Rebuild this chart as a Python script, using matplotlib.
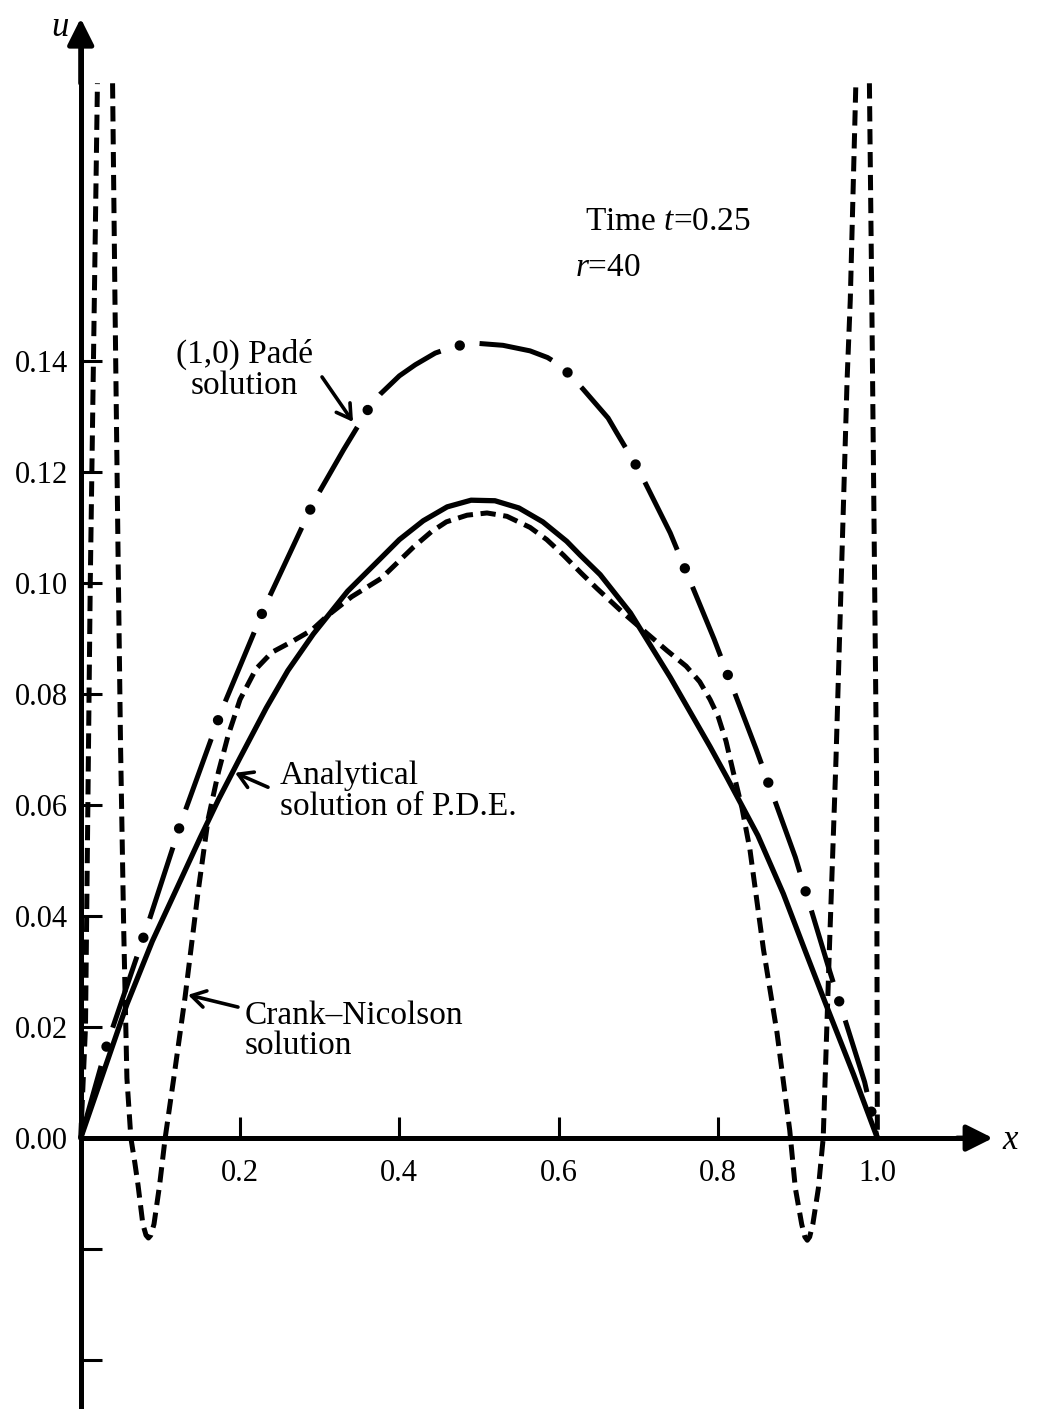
import numpy as np
import matplotlib.pyplot as plt

plt.rcParams['font.family'] = ['Liberation Serif', 'DejaVu Serif']
plt.rcParams['mathtext.fontset'] = 'custom'
plt.rcParams['mathtext.rm'] = 'Liberation Serif'
plt.rcParams['mathtext.it'] = 'Liberation Serif:italic'
plt.rcParams['lines.scale_dashes'] = False

# analytical solution of the PDE
x_exact = [0.0, 0.058, 0.09, 0.122, 0.15, 0.173, 0.2, 0.233, 0.26, 0.292, 0.335, 0.377,
           0.40, 0.43, 0.46, 0.49, 0.52, 0.55, 0.58, 0.61, 0.627, 0.652, 0.69, 0.74,
           0.79, 0.811, 0.85, 0.882, 0.91, 0.937, 0.97, 1.0]
u_exact = [0.0, 0.0241, 0.0355, 0.0454, 0.0541, 0.0610, 0.0685, 0.0775, 0.0842, 0.0908,
           0.0985, 0.1045, 0.1078, 0.1112, 0.1137, 0.1149, 0.1148, 0.1135, 0.1110, 0.1075,
           0.105, 0.1015, 0.0946, 0.0830, 0.0705, 0.0650, 0.0545, 0.0440, 0.0335, 0.0235,
           0.0115, 0.0]

# (1,0) Pade solution
x_pade = [0.0, 0.034, 0.082, 0.127, 0.177, 0.232, 0.294, 0.33, 0.363, 0.376, 0.40, 0.42,
          0.445, 0.469, 0.494, 0.53, 0.564, 0.586, 0.604, 0.63, 0.662, 0.673, 0.70, 0.74,
          0.795, 0.848, 0.897, 0.939, 0.984, 1.0]
u_pade = [0.0, 0.0173, 0.0375, 0.0573, 0.0771, 0.096, 0.115, 0.1240, 0.1318, 0.1340,
          0.1373, 0.1393, 0.1414, 0.1426, 0.1432, 0.1428, 0.1418, 0.1406, 0.1390, 0.1350,
          0.1297, 0.127, 0.1205, 0.109, 0.0899, 0.070, 0.0506, 0.0306, 0.0101, 0.0]

# Crank-Nicolson solution (the two spikes run off the top, nan breaks them)
x_cn = [0.0, 0.003, 0.006, 0.012, 0.017, 0.021, np.nan,
        0.040, 0.043, 0.047, 0.050, 0.054, 0.058, 0.063, 0.068,
        0.072, 0.078, 0.082, 0.085, 0.088, 0.092, 0.099, 0.106,
        0.118, 0.131, 0.147, 0.160, 0.173, 0.185, 0.2, 0.22, 0.24, 0.266, 0.29, 0.309,
        0.34, 0.377, 0.40, 0.418, 0.44, 0.459, 0.485, 0.51, 0.535, 0.564, 0.585, 0.606,
        0.628, 0.648, 0.681, 0.71, 0.736, 0.76, 0.777, 0.79, 0.80, 0.81, 0.819, 0.830,
        0.840, 0.857, 0.874, 0.890, 0.897, 0.905, 0.909, 0.912, 0.915, 0.919, 0.926, 0.932,
        0.940, 0.948, 0.962, 0.966, 0.973, np.nan,
        0.990, 0.993, 0.994, 0.999, 1.0]
u_cn = [0.0, 0.01, 0.02, 0.10, 0.15, 0.19, np.nan,
        0.19, 0.151, 0.104, 0.0708, 0.0375, 0.0108, 0.0, -0.0045,
        -0.0085, -0.0155, -0.0175, -0.018, -0.0175, -0.0155, -0.0085, 0.0,
        0.012, 0.0254, 0.044, 0.0575, 0.0660, 0.0725, 0.0790, 0.0845, 0.0875, 0.0895,
        0.0915, 0.0940, 0.0975, 0.1008, 0.1040, 0.1065, 0.1092, 0.1110, 0.1122, 0.1126,
        0.1120, 0.1100, 0.1078, 0.1050, 0.1018, 0.0990, 0.0946, 0.0910, 0.0878, 0.0850,
        0.0822, 0.0790, 0.0760, 0.0715, 0.066, 0.0595, 0.052, 0.034, 0.019, 0.0014,
        -0.009, -0.0155, -0.0178, -0.0184, -0.0178, -0.0155, -0.009, 0.0,
        0.035, 0.068, 0.1366, 0.151, 0.19, np.nan,
        0.19, 0.151, 0.1366, 0.065, 0.0]

yticks = [-0.04, -0.02, 0.0, 0.02, 0.04, 0.06, 0.08, 0.10, 0.12, 0.14]
ytick_labels = ['', '', '0.00', '0.02', '0.04', '0.06', '0.08', '0.10', '0.12', '0.14']
xticks = [0.2, 0.4, 0.6, 0.8, 1.0]
xtick_labels = ['0.2', '0.4', '0.6', '0.8', '1.0']

fig = plt.figure(figsize=(10.43, 14.09), dpi=100)
ax = fig.add_axes([0, 0, 1, 1])
ax.set_xlim(-0.1013, 1.2079)
ax.set_ylim(-0.0488, 0.2050)

# curves
ax.plot(x_exact, u_exact, color='black', lw=3.8, solid_capstyle='round',
        solid_joinstyle='round')
ax.plot(x_cn, u_cn, color='black', lw=3.6, linestyle=(0, (11, 5.5)))
# dash-dot: long dashes, then big round dots placed in the gaps
ax.plot(x_pade, u_pade, color='black', lw=3.6, linestyle=(0, (54, 28.8)))
ax.plot(x_pade, u_pade, color='black', lw=7.5, linestyle=(14.4, (0.01, 82.79)),
        dash_capstyle='round')

# axes through the origin
for side in ['top', 'right']:
    ax.spines[side].set_visible(False)
ax.spines['left'].set_position(('data', 0))
ax.spines['bottom'].set_position(('data', 0))
ax.spines['left'].set_bounds(-0.0488, 0.197)
ax.spines['bottom'].set_bounds(0, 1.12)
ax.spines['left'].set_linewidth(3.6)
ax.spines['bottom'].set_linewidth(3.6)
ax.spines['left'].set_zorder(5)
ax.spines['bottom'].set_zorder(5)

arrow = dict(arrowstyle='-|>,head_length=0.8,head_width=0.4', color='black', lw=3.6,
             mutation_scale=20, shrinkA=0, shrinkB=0)
ax.annotate('', xy=(0, 0.2017), xytext=(0, 0.19), arrowprops=arrow)
ax.annotate('', xy=(1.145, 0), xytext=(1.10, 0), arrowprops=arrow)
ax.text(-0.026, 0.2000, 'u', fontsize=25, style='italic', ha='center', va='center')
ax.text(1.166, -0.0005, 'x', fontsize=25, style='italic', ha='center', va='center')

ax.set_yticks(yticks)
ax.set_yticklabels(ytick_labels)
ax.set_xticks(xticks)
ax.set_xticklabels(xtick_labels)
ax.tick_params(axis='y', direction='in', length=15, width=2.2, pad=9, labelsize=22)
ax.tick_params(axis='x', direction='in', length=15, width=2.2, pad=15, labelsize=22)
ax.xaxis.get_major_ticks()[-1].tick1line.set_visible(False)

# labels and pointers
ax.text(0.206, 0.1384, '(1,0) Padé\nsolution', fontsize=24, ha='center', va='center',
        linespacing=1.0)
ax.text(0.250, 0.0625, 'Analytical\nsolution of P.D.E.', fontsize=24, ha='left', va='center',
        linespacing=1.0)
ax.text(0.206, 0.0193, 'Crank–Nicolson\nsolution', fontsize=24, ha='left', va='center',
        linespacing=1.0)
ax.text(0.633, 0.165, 'Time $t$=0.25', fontsize=24, ha='left', va='center')
ax.text(0.620, 0.1568, '$r$=40', fontsize=24, ha='left', va='center')

pointer = dict(arrowstyle='->,head_length=0.5,head_width=0.3', color='black', lw=2.6,
               mutation_scale=20, shrinkA=0, shrinkB=0)
ax.annotate('', xy=(0.3418, 0.1290), xytext=(0.3029, 0.1371), arrowprops=pointer)
ax.annotate('', xy=(0.1937, 0.0658), xytext=(0.2351, 0.0632), arrowprops=pointer)
ax.annotate('', xy=(0.1347, 0.0258), xytext=(0.1974, 0.0236), arrowprops=pointer)

fig.savefig('out.png', dpi=100)
